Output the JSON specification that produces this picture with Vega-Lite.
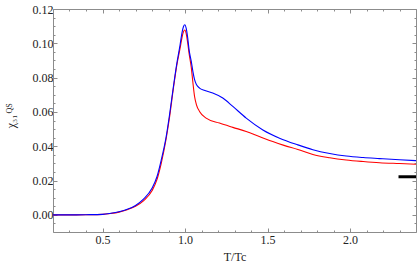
{
  "$schema": "https://vega.github.io/schema/vega-lite/v6.json",
  "width": 363,
  "height": 223,
  "autosize": {"type": "none"},
  "padding": {"left": 53, "top": 9, "right": 1, "bottom": 40},
  "background": "white",
  "config": {
    "font": "Liberation Serif",
    "view": {"stroke": null},
    "axis": {
      "grid": false,
      "domainColor": "#8c8c8c",
      "tickColor": "#8c8c8c",
      "labelColor": "#222222",
      "titleColor": "#222222",
      "labelFont": "Liberation Serif",
      "titleFont": "Liberation Serif",
      "labelFontSize": 12,
      "titleFontSize": 12,
      "titleFontWeight": "normal",
      "labelOverlap": false,
      "labelFlush": false
    }
  },
  "datasets": {
    "red": [
      {"x": 0.2, "y": 0}, {"x": 0.3, "y": 0}, {"x": 0.4, "y": 0.0001}, {"x": 0.5, "y": 0.0003},
      {"x": 0.55, "y": 0.0008}, {"x": 0.6, "y": 0.0016}, {"x": 0.65, "y": 0.003}, {"x": 0.7, "y": 0.005},
      {"x": 0.75, "y": 0.0083}, {"x": 0.8, "y": 0.014}, {"x": 0.83, "y": 0.0205}, {"x": 0.856, "y": 0.03},
      {"x": 0.886, "y": 0.0445}, {"x": 0.905, "y": 0.056}, {"x": 0.93, "y": 0.074}, {"x": 0.95, "y": 0.087},
      {"x": 0.97, "y": 0.097}, {"x": 0.982, "y": 0.1035}, {"x": 0.991, "y": 0.1068}, {"x": 0.999, "y": 0.1078},
      {"x": 1.007, "y": 0.1058}, {"x": 1.016, "y": 0.1005},
      {"x": 1.025, "y": 0.094}, {"x": 1.038, "y": 0.086}, {"x": 1.048, "y": 0.077}, {"x": 1.058, "y": 0.069},
      {"x": 1.07, "y": 0.064}, {"x": 1.088, "y": 0.0603}, {"x": 1.128, "y": 0.0564}, {"x": 1.209, "y": 0.0535},
      {"x": 1.29, "y": 0.051}, {"x": 1.371, "y": 0.0486}, {"x": 1.45, "y": 0.0457}, {"x": 1.532, "y": 0.0427},
      {"x": 1.6, "y": 0.0405}, {"x": 1.684, "y": 0.0381}, {"x": 1.775, "y": 0.0352}, {"x": 1.877, "y": 0.0333},
      {"x": 1.977, "y": 0.032}, {"x": 2.08, "y": 0.0311}, {"x": 2.179, "y": 0.0304}, {"x": 2.3, "y": 0.0299},
      {"x": 2.4, "y": 0.0295}
    ],
    "blue": [
      {"x": 0.2, "y": 0}, {"x": 0.3, "y": 0}, {"x": 0.4, "y": 0.0001}, {"x": 0.5, "y": 0.0003},
      {"x": 0.55, "y": 0.0009}, {"x": 0.6, "y": 0.0018}, {"x": 0.65, "y": 0.0032}, {"x": 0.7, "y": 0.0055},
      {"x": 0.75, "y": 0.0093}, {"x": 0.8, "y": 0.0155}, {"x": 0.83, "y": 0.0222}, {"x": 0.856, "y": 0.032},
      {"x": 0.886, "y": 0.0456}, {"x": 0.905, "y": 0.0575}, {"x": 0.93, "y": 0.0749}, {"x": 0.95, "y": 0.088},
      {"x": 0.97, "y": 0.099}, {"x": 0.982, "y": 0.1062}, {"x": 0.991, "y": 0.1098}, {"x": 0.999, "y": 0.1108},
      {"x": 1.007, "y": 0.1088}, {"x": 1.016, "y": 0.1035},
      {"x": 1.025, "y": 0.096}, {"x": 1.038, "y": 0.0895}, {"x": 1.048, "y": 0.0835}, {"x": 1.058, "y": 0.0788},
      {"x": 1.07, "y": 0.0758}, {"x": 1.088, "y": 0.0739}, {"x": 1.12, "y": 0.0725}, {"x": 1.168, "y": 0.071},
      {"x": 1.229, "y": 0.0681}, {"x": 1.29, "y": 0.0632}, {"x": 1.371, "y": 0.0564}, {"x": 1.472, "y": 0.0495},
      {"x": 1.573, "y": 0.0447}, {"x": 1.684, "y": 0.0408}, {"x": 1.775, "y": 0.038}, {"x": 1.877, "y": 0.0358},
      {"x": 1.977, "y": 0.0343}, {"x": 2.08, "y": 0.0334}, {"x": 2.179, "y": 0.0328}, {"x": 2.3, "y": 0.0321},
      {"x": 2.4, "y": 0.0316}
    ],
    "bar": [
      {"x": 2.294, "x2": 2.4, "y": 0.0222}
    ]
  },
  "layer": [
    {
      "data": {"name": "red"},
      "mark": {"type": "line", "color": "#ff0000", "strokeWidth": 1.1, "interpolate": "monotone", "clip": true},
      "encoding": {
        "x": {
          "field": "x", "type": "quantitative",
          "scale": {"domain": [0.2, 2.4], "nice": false, "zero": false},
          "axis": {
            "orient": "bottom",
            "values": [0.2, 0.3, 0.4, 0.5, 0.6, 0.7, 0.8, 0.9, 1.0, 1.1, 1.2, 1.3, 1.4, 1.5, 1.6, 1.7, 1.8, 1.9, 2.0, 2.1, 2.2, 2.3, 2.4],
            "labelExpr": "abs(datum.value*2-round(datum.value*2))<0.001 && datum.value > 0.3 ? format(datum.value,'.1f') : ''",
            "tickSize": {"condition": {"test": "abs(datum.value*2-round(datum.value*2))<0.001", "value": -4}, "value": -2},
            "labelPadding": 6,
            "title": "T/Tc",
            "titlePadding": 4
          }
        },
        "y": {
          "field": "y", "type": "quantitative",
          "scale": {"domain": [-0.01, 0.12], "nice": false, "zero": false},
          "axis": {
            "orient": "left",
            "values": [-0.005, 0, 0.005, 0.01, 0.015, 0.02, 0.025, 0.03, 0.035, 0.04, 0.045, 0.05, 0.055, 0.06, 0.065, 0.07, 0.075, 0.08, 0.085, 0.09, 0.095, 0.1, 0.105, 0.11, 0.115, 0.12],
            "labelExpr": "abs(datum.value*50-round(datum.value*50))<0.001 ? format(datum.value,'.2f') : ''",
            "tickSize": {"condition": {"test": "abs(datum.value*50-round(datum.value*50))<0.001", "value": -4}, "value": -2},
            "labelPadding": 4,
            "title": "χ₃₁",
            "titleX": -39,
            "titleY": 112,
            "titleAngle": -90,
            "titleAlign": "center",
            "titleBaseline": "alphabetic"
          }
        }
      }
    },
    {
      "data": {"name": "blue"},
      "mark": {"type": "line", "color": "#0000ff", "strokeWidth": 1.1, "interpolate": "monotone", "clip": true},
      "encoding": {
        "x": {
          "field": "x", "type": "quantitative",
          "axis": {
            "orient": "top",
            "values": [0.2, 0.3, 0.4, 0.5, 0.6, 0.7, 0.8, 0.9, 1.0, 1.1, 1.2, 1.3, 1.4, 1.5, 1.6, 1.7, 1.8, 1.9, 2.0, 2.1, 2.2, 2.3, 2.4],
            "labels": false,
            "tickSize": {"condition": {"test": "abs(datum.value*2-round(datum.value*2))<0.001", "value": -4}, "value": -2},
            "title": null
          }
        },
        "y": {
          "field": "y", "type": "quantitative",
          "axis": {
            "orient": "right",
            "values": [-0.005, 0, 0.005, 0.01, 0.015, 0.02, 0.025, 0.03, 0.035, 0.04, 0.045, 0.05, 0.055, 0.06, 0.065, 0.07, 0.075, 0.08, 0.085, 0.09, 0.095, 0.1, 0.105, 0.11, 0.115, 0.12],
            "labels": false,
            "tickSize": {"condition": {"test": "abs(datum.value*50-round(datum.value*50))<0.001", "value": -4}, "value": -2},
            "title": "QS",
            "titleFontSize": 8,
            "titleX": -405,
            "titleY": 99,
            "titleAngle": -90,
            "titleAlign": "center",
            "titleBaseline": "alphabetic"
          }
        }
      }
    },
    {
      "data": {"name": "bar"},
      "mark": {"type": "rule", "color": "#000000", "strokeWidth": 3, "clip": true},
      "encoding": {
        "x": {"field": "x", "type": "quantitative", "axis": null},
        "x2": {"field": "x2"},
        "y": {"field": "y", "type": "quantitative", "axis": null}
      }
    }
  ],
  "resolve": {"axis": {"x": "independent", "y": "independent"}}
}
